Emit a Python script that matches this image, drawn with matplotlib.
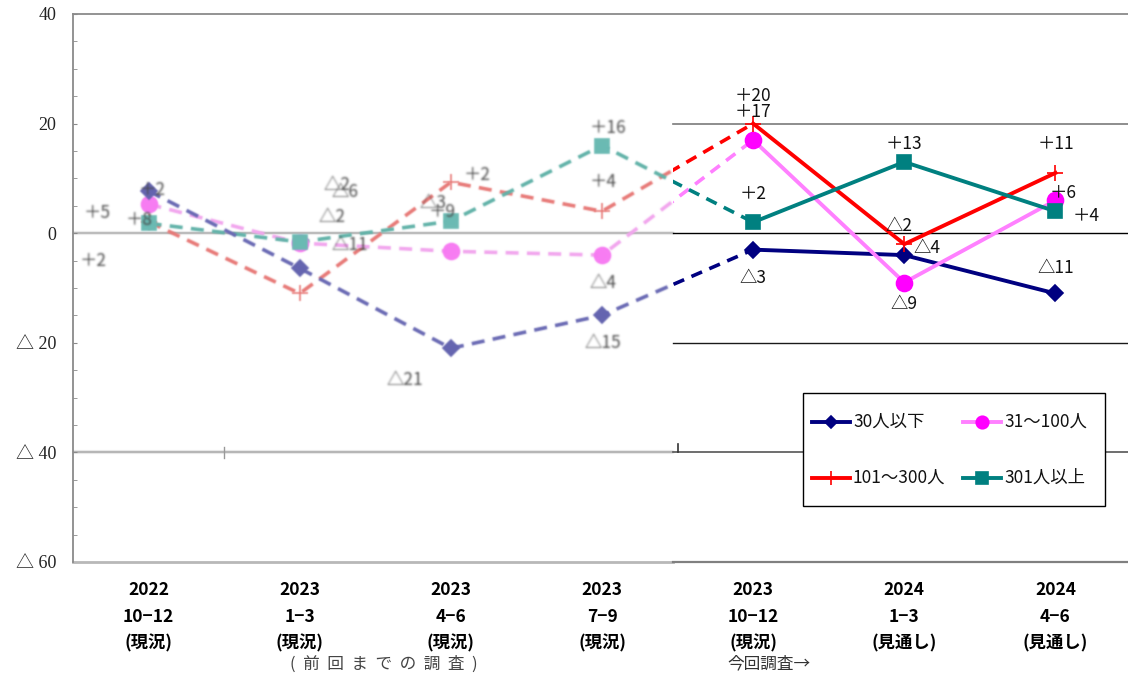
import numpy as np
import matplotlib
matplotlib.use("Agg")
import matplotlib.pyplot as plt
from matplotlib.patches import Rectangle
from matplotlib.lines import Line2D

# ---------------- data ----------------
period_year = ["2022", "2023", "2023", "2023", "2023", "2024", "2024"]
period_months = ["10−12", "1−3", "4−6", "7−9", "10−12", "1−3", "4−6"]
period_kind = ["(現況)", "(現況)", "(現況)", "(現況)", "(現況)", "(見通し)", "(見通し)"]

series_names = ["30人以下", "31～100人", "101～300人", "301人以上"]
vals_upto30 = [7.7, -6.4, -21, -15, -3, -4, -11]
vals_31_100 = [5.3, -1.8, -3.3, -4, 17, -9, 6]
vals_101_300 = [2.1, -11, 9.3, 4, 20, -2, 11]
vals_301up = [1.8, -1.6, 2.2, 16, 2, 13, 4]

yticks = [40, 20, 0, -20, -40, -60]
ytick_labels = ["40", "20", "0", "△ 20", "△ 40", "△ 60"]

# earlier survey labels: (series, point, text, dx px, dy px downward)
old_labels = [
    (0, 0, "＋2", 4, -1), (1, 0, "＋5", -51, 9), (3, 0, "＋8", -10, -3), (2, 0, "＋2", -55, 39),
    (3, 1, "△2", 37, -57), (3, 1, "△6", 45, -50), (3, 1, "△2", 32, -25), (3, 1, "△11", 50, 3),
    (0, 2, "△21", -46, 32), (2, 2, "＋2", 26, -7), (3, 2, "＋9", -9, -9), (3, 2, "△3", -18, -18),
    (3, 3, "＋16", 6, -18), (2, 3, "＋4", 1, -29), (1, 3, "△4", 1, 28), (0, 3, "△15", 1, 28),
]
# current survey labels
new_labels = [
    (2, 4, "＋20", 0, -28), (1, 4, "＋17", 0, -28), (3, 4, "＋2", 0, -28), (0, 4, "△3", 0, 28),
    (3, 5, "＋13", 0, -18), (2, 5, "△2", -5, -18), (0, 5, "△4", 23, -7), (1, 5, "△9", 0, 21),
    (2, 6, "＋11", 0, -29), (1, 6, "＋6", 8, -7), (3, 6, "＋4", 31, 5), (0, 6, "△11", 0, -25),
]

# ---------------- styles ----------------
new_line = ["#000080", "#ff80ff", "#ff0000", "#008080"]
new_face = ["#000080", "#ff00ff", "#ff0000", "#008080"]
old_line = ["#6a6ab4", "#f2a6ee", "#e87a78", "#62b3a9"]
old_face = ["#6464b0", "#f77cf2", "#e87a78", "#6bbab3"]
markers = ["D", "o", "+", "s"]
msizes = [8, 11.5, 11, 10.5]
old_order = [2, 1, 3, 0]
new_order = [0, 1, 2, 3]

JP = ["Noto Sans CJK JP", "DejaVu Sans"]
SERIF = ["Liberation Serif", "Noto Sans CJK JP"]


class Blur:
    """Gaussian softening for agg_filter (premultiplied)."""

    def __init__(self, sigma=0.9):
        self.sigma = sigma

    def __call__(self, im, dpi):
        r = int(3 * self.sigma) + 1
        a = np.pad(im, ((r, r), (r, r), (0, 0)))
        a[..., :3] *= a[..., 3:4]
        k = np.exp(-0.5 * (np.arange(-r, r + 1) / self.sigma) ** 2)
        k /= k.sum()
        for ax_ in (0, 1):
            out = np.zeros_like(a)
            for i, w in enumerate(k):
                out += w * np.roll(a, i - r, axis=ax_)
            a = out
        alpha = a[..., 3:4]
        a[..., :3] = np.where(alpha > 1e-6, a[..., :3] / np.maximum(alpha, 1e-6), 0)
        return np.clip(a, 0, 1), -r, -r


soft = Blur(0.75)

fig = plt.figure(figsize=(11.28, 6.76), dpi=100)
W, H = 1128, 676
ax = fig.add_axes([73 / W, 1 - 562 / H, 1 - 73 / W, (562 - 14) / H])
ax.set_xlim(-0.5, 6.48)
ax.set_ylim(-60, 40)

split = 3.47
fsplit = (split + 0.5) / 6.98

all_vals = [vals_upto30, vals_31_100, vals_101_300, vals_301up]
x = np.arange(len(period_year))

# frame and rules
for s in ["right", "bottom"]:
    ax.spines[s].set_visible(False)
ax.spines["top"].set_color("#8a8a8a")
ax.spines["top"].set_linewidth(1.3)
ax.spines["left"].set_color("#8a8a8a")
ax.spines["left"].set_linewidth(1.3)

ax.axhline(0, 0, fsplit, color="#8c8c8c", lw=1.1, agg_filter=soft)
ax.axhline(0, fsplit, 1, color="#000000", lw=1.0)
ax.axhline(20, fsplit, 1, color="#7a7a7a", lw=1.2)
ax.axhline(-20, fsplit, 1, color="#1a1a1a", lw=1.0)
ax.axhline(-40, 0, fsplit, color="#8c8c8c", lw=1.2, agg_filter=soft)
ax.axhline(-40, fsplit, 1, color="#555555", lw=1.2)
ax.axhline(-60, 0, fsplit, color="#b8b8b8", lw=2.0, clip_on=False)
ax.axhline(-60, fsplit, 1, color="#808080", lw=1.6, clip_on=False)
ax.plot([0.5, 0.5], [-41, -39], color="#999999", lw=1)
ax.plot([3.5, 3.5], [-40, -38.5], color="#333333", lw=1.2)

ax.set_yticks(yticks)
ax.set_yticklabels(ytick_labels, family=SERIF, fontsize=13, color="#222222")
ax.set_yticks(np.arange(-60, 41, 5), minor=True)
ax.tick_params(axis="y", which="both", direction="in", length=3, color="#8a8a8a", pad=12)

tick_text = [f"{a}\n{b}\n{c}" for a, b, c in zip(period_year, period_months, period_kind)]
ax.set_xticks(x)
ax.set_xticklabels(tick_text, family=JP, fontsize=12.5, fontweight="bold", linespacing=1.6)
ax.tick_params(axis="x", length=0, pad=14)

clip_left = Rectangle((-0.5, -60), split + 0.5, 100, transform=ax.transData)
clip_right = Rectangle((split, -60), 10, 100, transform=ax.transData)

# earlier survey (soft, faded, dashed)
for i in old_order:
    v = all_vals[i]
    ln, = ax.plot(x[:5], v[:5], color=old_line[i], lw=2.6, ls=(0, (3.6, 2.3)), zorder=2)
    ln.set_clip_path(clip_left)
    ln.set_agg_filter(soft)
    mk, = ax.plot(x[:4], v[:4], ls="none", marker=markers[i], ms=msizes[i],
                  mfc=old_face[i], mec=old_face[i], mew=1.2, zorder=3)
    mk.set_agg_filter(soft)

for s, p, t, dx, dy in old_labels:
    txt = ax.annotate(t, (x[p], all_vals[s][p]), xytext=(dx, -dy), textcoords="offset pixels",
                      ha="center", va="center", family=JP, fontsize=12.5, color="#4a4a4a", zorder=4)
    txt.set_agg_filter(soft)

# current survey
for i in new_order:
    v = all_vals[i]
    dl, = ax.plot(x[3:5], v[3:5], color=new_line[i], lw=2.6, ls=(0, (3.2, 2.2)), zorder=5)
    dl.set_clip_path(clip_right)
    ax.plot(x[4:], v[4:], color=new_line[i], lw=2.8, zorder=5,
            marker=markers[i], ms=msizes[i], mfc=new_face[i], mec=new_face[i], mew=1.2)

for s, p, t, dx, dy in new_labels:
    ax.annotate(t, (x[p], all_vals[s][p]), xytext=(dx, -dy), textcoords="offset pixels",
                ha="center", va="center", family=JP, fontsize=12.5, color="#111111", zorder=7)

# survey captions under the axis
fig.text(384 / W, 1 - 664 / H, "(  前  回  ま  で  の  調  査  )", ha="center", va="center",
         family=JP, fontsize=12, color="#444444")
fig.text(727 / W, 1 - 664 / H, "今回調査→", ha="left", va="center",
         family=JP, fontsize=12, color="#333333")

# legend box
leg_box = Rectangle((803 / W, 1 - 506 / H), (1105 - 803) / W, (506 - 393) / H,
                    transform=fig.transFigure, facecolor="white", edgecolor="black", lw=1.0, zorder=10)
fig.add_artist(leg_box)
leg_pos = [(812, 422), (963, 422), (812, 478), (963, 478)]
leg_ms = [6.5, 9, 10, 9]
for i, (px, py) in enumerate(leg_pos):
    yy = 1 - py / H
    fig.add_artist(Line2D([px / W, (px + 38) / W], [yy, yy], transform=fig.transFigure,
                          color=new_line[i], lw=2.8, zorder=11))
    fig.add_artist(Line2D([(px + 19) / W], [yy], transform=fig.transFigure, ls="none",
                          marker=markers[i], ms=leg_ms[i], mfc=new_face[i], mec=new_face[i],
                          mew=1.2, zorder=12))
    fig.text((px + 41) / W, yy, series_names[i], ha="left", va="center", family=JP,
             fontsize=12.5, color="#111111", zorder=12)

fig.savefig("out.png", dpi=100)
